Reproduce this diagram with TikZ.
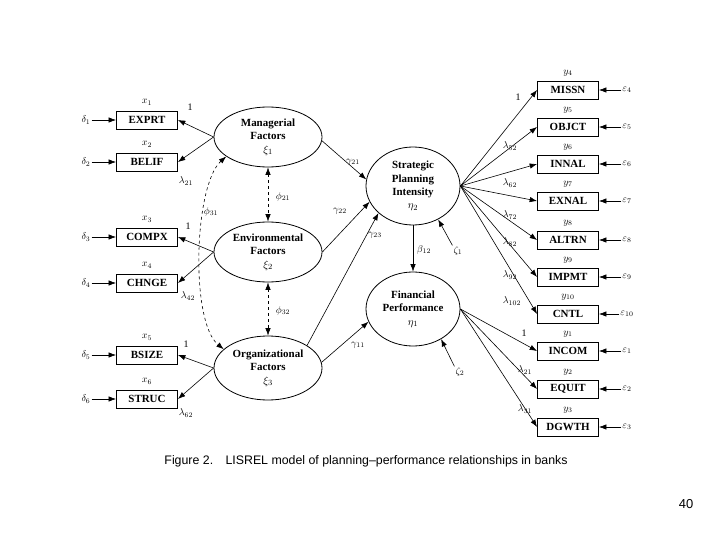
\documentclass[tikz,border=0pt]{standalone}
\usepackage{amsmath,amssymb}
\usepackage{fontspec}
\setmainfont{Liberation Serif}
\setsansfont{Liberation Sans}
\usepackage{tikz}
\usetikzlibrary{positioning,arrows.meta,shapes.geometric,calc}
\tikzset{
obs/.style={
draw,
line width=0.9bp,
minimum width=61bp,
minimum height=18bp,
inner sep=0pt,
font=\fontsize{11}{11}\selectfont\bfseries
},
latent/.style={
draw,
ellipse,
line width=0.8bp,
minimum width=108bp,
minimum height=60bp,
inner sep=0pt,
align=center,
font=\fontsize{11}{13.5}\selectfont\bfseries
},
lbl/.style={
inner sep=1pt,
font=\fontsize{10}{10}\selectfont
},
arrow/.style={
-{Latex[length=2.6mm,width=1.9mm]},
line width=0.6bp
},
dblarrow/.style={
{Latex[length=2.6mm,width=1.9mm]}-{Latex[length=2.6mm,width=1.9mm]},
line width=0.6bp,
dashed
}
}
\begin{document}
\begin{tikzpicture}[x=1bp,y=-1bp]
\useasboundingbox[fill=white](0,0) rectangle (720,540);
\node[latent](mf) at (268,137){Managerial\\Factors\\$\xi_1$};
\node[latent](ef) at (268,252){Environmental\\Factors\\$\xi_2$};
\node[latent,minimum height=64bp](of) at (268,368){Organizational\\Factors\\$\xi_3$};
\node[latent,minimum width=94bp,minimum height=78bp](spi) at (413,186){Strategic\\Planning\\Intensity\\$\eta_2$};
\node[latent,minimum width=94bp,minimum height=74bp](fp) at (413,309){Financial\\Performance\\$\eta_1$};

\foreach \n/\t/\y/\i in {x1/EXPRT/120/1,x2/BELIF/162/2,x3/COMPX/237/3,x4/CHNGE/283/4,x5/BSIZE/355/5,x6/STRUC/399/6}{
\node[obs](\n) at (147,\y){\t};
\node[lbl,above=4bp of \n]{$x_{\i}$};
\node[lbl](d\i) at (86,\y){$\delta_{\i}$};
\draw[arrow](d\i)--(\n);
}
\foreach \n/\t/\y/\i in {y4/MISSN/90/4,y5/OBJCT/127/5,y6/INNAL/164/6,y7/EXNAL/201/7,y8/ALTRN/240/8,y9/IMPMT/277/9,y10/CNTL/314/10,y1/INCOM/351/1,y2/EQUIT/389/2,y3/DGWTH/427/3}{
\node[obs](\n) at (568,\y){\t};
\node[lbl,above=3bp of \n]{$y_{\i}$};
\node[lbl](e\i) at (627,\y){$\varepsilon_{\i}$};
\draw[arrow](e\i)--(\n);
}

\foreach \x/\y in {mf/x1,mf/x2,ef/x3,ef/x4,of/x5,of/x6}
\draw[arrow](\x.west)--(\y.east);
\foreach \y in {y4,y5,y6,y7,y8,y9,y10}
\draw[arrow](spi.east)--(\y.west);
\foreach \y in {y1,y2,y3}
\draw[arrow](fp.east)--(\y.west);

\draw[arrow](mf.-4)--(spi.172);
\draw[arrow](ef.east)--(spi.200);
\draw[arrow](of.30)--(spi.218);
\draw[arrow](of.6)--(fp.196);
\draw[arrow](spi.south)--(fp.north);

\node[lbl](z1) at (458,251){$\zeta_1$};
\node[lbl](z2) at (460,372){$\zeta_2$};
\draw[arrow](z1.north west)--(spi.307);
\draw[arrow](z2.north west)--(fp.313);

\draw[dblarrow](mf.south)--(ef.north);
\draw[dblarrow](ef.south)--(of.north);
\draw[dblarrow](mf.205) .. controls (194,185) and (190,322) .. (of.157);

\node[lbl] at (283,197){$\phi_{21}$};
\node[lbl] at (283,311){$\phi_{32}$};
\node[lbl] at (211,212){$\phi_{31}$};
\node[lbl] at (353,162){$\gamma_{21}$};
\node[lbl] at (340,211){$\gamma_{22}$};
\node[lbl] at (375,235){$\gamma_{23}$};
\node[lbl] at (358,345){$\gamma_{11}$};
\node[lbl] at (424,250){$\beta_{12}$};

\node[lbl] at (190,107){1};
\node[lbl] at (186,181){$\lambda_{21}$};
\node[lbl] at (188,226){1};
\node[lbl] at (188,296){$\lambda_{42}$};
\node[lbl] at (186,344){1};
\node[lbl] at (186,413){$\lambda_{62}$};
\node[lbl] at (518,97){1};
\node[lbl] at (510,146){$\lambda_{52}$};
\node[lbl] at (510,183){$\lambda_{62}$};
\node[lbl] at (510,215){$\lambda_{72}$};
\node[lbl] at (510,242){$\lambda_{82}$};
\node[lbl] at (510,275){$\lambda_{92}$};
\node[lbl] at (512,301){$\lambda_{102}$};
\node[lbl] at (524,333){1};
\node[lbl] at (525,370){$\lambda_{21}$};
\node[lbl] at (525,409){$\lambda_{31}$};

\node[font=\sffamily\fontsize{12.4}{12.4}\selectfont](cap) at (366,461){Figure 2.\quad LISREL model of planning--performance relationships in banks};
\node[font=\sffamily\fontsize{13}{13}\selectfont](pg) at (686,504){40};
\end{tikzpicture}
\end{document}
